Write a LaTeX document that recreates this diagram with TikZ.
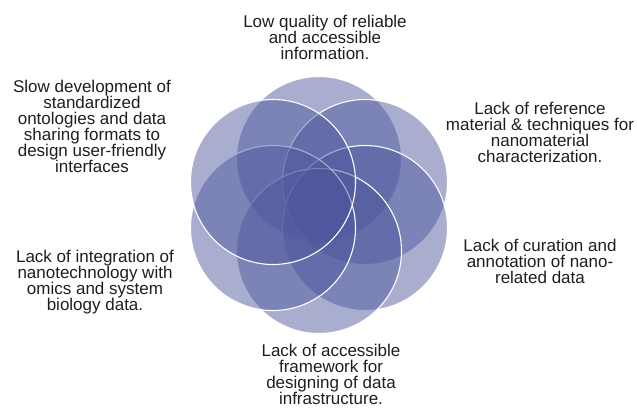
\documentclass[tikz,border=0pt]{standalone}
\usepackage{fontspec}
\setmainfont{Liberation Sans}
\definecolor{petal}{RGB}{75,85,155}
\definecolor{txt}{RGB}{30,30,30}
\begin{document}
\begin{tikzpicture}[x=1pt,y=-1pt,
  petalc/.style={circle,minimum size=165pt,inner sep=0pt,fill=petal,fill opacity=0.48,draw=white,draw opacity=1,line width=1.1pt},
  lbl/.style={align=center,anchor=base,inner sep=0pt,text=txt,font=\fontsize{17}{15.9}\selectfont}]
\useasboundingbox (0,0) rectangle (637,410);
% circles (clockwise from top)
\node[petalc] (ct) at (319,159) {};
\node[petalc] (cur) at (365,182) {};
\node[petalc] (clr) at (365,228) {};
\node[petalc] (cb) at (319,251) {};
\node[petalc] (cll) at (273,228) {};
\node[petalc] (cul) at (273,182) {};
% labels (anchored at the baseline of their last line)
\node[lbl] (tt) at (325,59.3) {Low quality of reliable\\and accessible\\information.};
\node[lbl] (tur) at (540,162) {Lack of reference\\material \& techniques for\\nanomaterial\\characterization.};
\node[lbl] (tlr) at (540,283) {Lack of curation and\\annotation of nano-\\related data};
\node[lbl] (tb) at (331,404) {Lack of accessible\\framework for\\designing of data\\infrastructure.};
\node[lbl] (tll) at (95,310) {Lack of integration of\\nanotechnology with\\omics and system\\biology data.};
\node[lbl] (tul) at (92,172) {Slow development of\\standardized\\ontologies and data\\sharing formats to\\design user-friendly\\interfaces};
\end{tikzpicture}
\end{document}
